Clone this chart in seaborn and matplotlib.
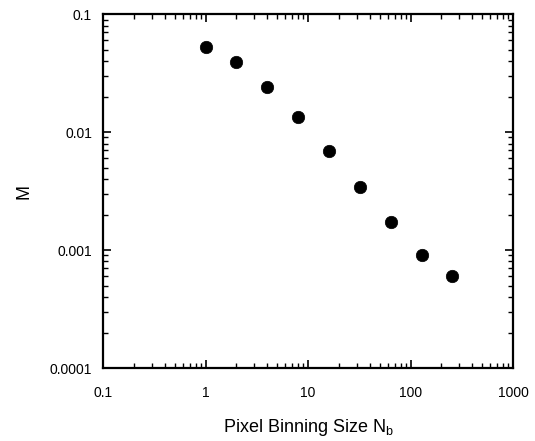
import numpy as np
import pandas as pd
import seaborn as sns
import matplotlib
matplotlib.use("Agg")
import matplotlib.pyplot as plt
from matplotlib.ticker import LogLocator, FixedLocator, FixedFormatter, NullFormatter

# --- Data ---
binning_size = [1, 2, 4, 8, 16, 32, 64, 128, 256]
m_values = [0.0522, 0.0394, 0.0242, 0.0134, 0.00695, 0.00342, 0.00174, 0.000912, 0.000602]

x_ticks = [0.1, 1, 10, 100, 1000]
x_tick_labels = ["0.1", "1", "10", "100", "1000"]
y_ticks = [0.0001, 0.001, 0.01, 0.1]
y_tick_labels = ["0.0001", "0.001", "0.01", "0.1"]

df = pd.DataFrame({"Nb": binning_size, "M": m_values})

sns.set_theme(style="ticks")
plt.rcParams["font.family"] = ["Liberation Sans", "DejaVu Sans"]
plt.rcParams["mathtext.fontset"] = "custom"
plt.rcParams["mathtext.rm"] = "Liberation Sans"

fig = plt.figure(figsize=(5.35, 4.41), dpi=100)
ax = fig.add_axes([0.1925, 0.1655, 0.7665, 0.8025])

sns.scatterplot(data=df, x="Nb", y="M", color="black", s=80, edgecolor="black",
                linewidth=0.5, ax=ax, zorder=3)

ax.set_xscale("log")
ax.set_yscale("log")
ax.set_xlim(0.1, 1000)
ax.set_ylim(0.0001, 0.1)

ax.xaxis.set_major_locator(FixedLocator(x_ticks))
ax.xaxis.set_major_formatter(FixedFormatter(x_tick_labels))
ax.yaxis.set_major_locator(FixedLocator(y_ticks))
ax.yaxis.set_major_formatter(FixedFormatter(y_tick_labels))
ax.xaxis.set_minor_locator(LogLocator(base=10, subs=np.arange(2, 10)))
ax.yaxis.set_minor_locator(LogLocator(base=10, subs=np.arange(2, 10)))
ax.xaxis.set_minor_formatter(NullFormatter())
ax.yaxis.set_minor_formatter(NullFormatter())

ax.tick_params(which="both", direction="in", top=True, right=True, color="black",
               labelsize=10, labelcolor="black")
ax.tick_params(which="major", length=6, width=1.2, pad=8)
ax.tick_params(axis="x", which="major", pad=13)
ax.tick_params(which="minor", length=3.5, width=1.0)

for spine in ax.spines.values():
    spine.set_linewidth(1.6)
    spine.set_color("black")

ax.set_xlabel(r"Pixel Binning Size N$_\mathrm{b}$", fontsize=13, labelpad=12, color="black")
ax.set_ylabel("M", fontsize=13, labelpad=12, color="black")

fig.savefig("out.png", dpi=100, facecolor="white")
